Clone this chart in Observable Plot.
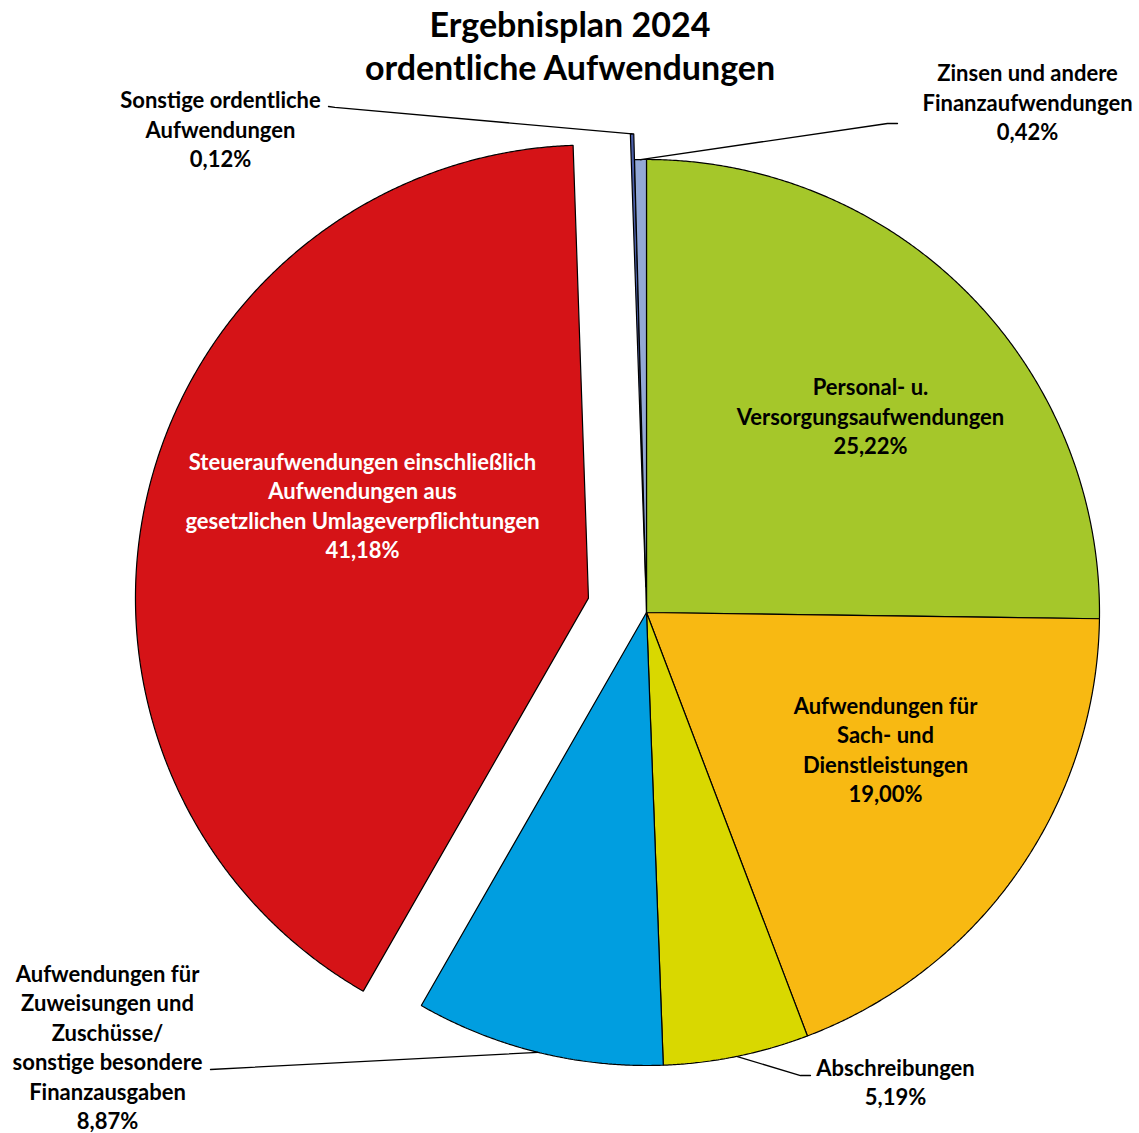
<!DOCTYPE html>
<html>
<head>
<meta charset="utf-8">
<script src="https://cdn.jsdelivr.net/npm/d3@7"></script>
<script src="https://cdn.jsdelivr.net/npm/@observablehq/plot@0.6"></script>
<style>
  html, body { margin: 0; padding: 0; background: #fff; }
  #chart svg { display: block; }
</style>
</head>
<body>
<div id="chart"></div>
<script>
// ---- data ----
const title = "Ergebnisplan 2024\nordentliche Aufwendungen";
const categories = [
  "Personal- u.\nVersorgungsaufwendungen",
  "Aufwendungen für\nSach- und\nDienstleistungen",
  "Abschreibungen",
  "Aufwendungen für\nZuweisungen und\nZuschüsse/\nsonstige besondere\nFinanzausgaben",
  "Steueraufwendungen einschließlich\nAufwendungen aus\ngesetzlichen Umlageverpflichtungen",
  "Sonstige ordentliche\nAufwendungen",
  "Zinsen und andere\nFinanzaufwendungen"
];
const shares = [25.22, 19.00, 5.19, 8.87, 41.18, 0.12, 0.42];

// ---- styles / layout ----
const colors = ["#a5c72a", "#f8b912", "#d9d800", "#009ee0", "#d51317", "#4a5ea8", "#93a9d6"];
const textColors = ["#000", "#000", "#000", "#000", "#fff", "#000", "#000"];
const explode = [0, 0, 0, 0, 0.132, 0.057, 0];
// label centres in radius units (pie centre = 0,0)
const labelPos = [
  [0.4945, 0.4350], [0.5276, -0.3000], [0.5497, -1.0341], [-1.1898, -0.9570],
  [-0.6269, 0.2385], [-0.9404, 1.0685], [0.8411, 1.1281]
];
// leader line label-side points (null = no leader)
const leaderStart = [
  null, null,
  [[0.3620, -1.0221], [0.3400, -1.0221]],
  [[-0.9625, -1.0088]],
  null,
  [[-0.7020, 1.1170], [-0.6880, 1.1150]],
  [[0.5541, 1.0795], [0.5320, 1.0795]]
];

const W = 1139, H = 1133, CX = 646, CY = 612, R = 453;
const FONT = "Lato, 'Open Sans', sans-serif";
const fmt = v => v.toFixed(2).replace(".", ",") + "%";

// ---- geometry from data ----
const total = d3.sum(shares);
let cum = 0;
const slices = shares.map((v, i) => {
  const a0 = cum / total * 2 * Math.PI;
  cum += v;
  const a1 = cum / total * 2 * Math.PI;
  const mid = (a0 + a1) / 2;
  const ox = explode[i] * Math.sin(mid), oy = explode[i] * Math.cos(mid);
  const n = Math.max(2, Math.ceil((a1 - a0) / (0.25 * Math.PI / 180)));
  const pts = [{x: ox, y: oy}];
  for (let k = 0; k <= n; k++) {
    const a = a0 + (a1 - a0) * k / n;
    pts.push({x: ox + Math.sin(a), y: oy + Math.cos(a)});
  }
  pts.push({x: ox, y: oy});
  return {i, a0, a1, mid, ox, oy, pts};
});

const labels = slices.map(s => ({
  x: labelPos[s.i][0], y: labelPos[s.i][1],
  text: categories[s.i] + "\n" + fmt(shares[s.i]),
  fill: textColors[s.i]
}));

const leaders = [];
slices.forEach(s => {
  if (!leaderStart[s.i]) return;
  const pts = leaderStart[s.i].map(([x, y]) => ({x, y}));
  pts.push({x: s.ox + Math.sin(s.mid), y: s.oy + Math.cos(s.mid)});
  leaders.push(pts);
});

const marks = [
  ...slices.map(s => Plot.line(s.pts, {x: "x", y: "y", fill: colors[s.i], stroke: "#000", strokeWidth: 1.2, strokeLinejoin: "miter"})),
  ...leaders.map(p => Plot.line(p, {x: "x", y: "y", stroke: "#000", strokeWidth: 1.3})),
  ...textColors.map((c, i) => Plot.text([labels[i]], {
    x: "x", y: "y", text: "text", fill: c, fontSize: 22, fontWeight: "bold",
    fontFamily: FONT, lineHeight: 1.34, textAnchor: "middle", lineAnchor: "middle"
  })),
  Plot.text([title], {frameAnchor: "top", dy: 44.5, text: d => d, fill: "#000", fontSize: 34,
    fontWeight: "bold", fontFamily: FONT, lineHeight: 1.265, lineAnchor: "middle"})
];

const chart = Plot.plot({
  width: W, height: H,
  marginTop: 0, marginRight: 0, marginBottom: 0, marginLeft: 0,
  x: {domain: [(0 - CX) / R, (W - CX) / R], axis: null},
  y: {domain: [(CY - H) / R, CY / R], axis: null},
  style: {fontFamily: FONT, background: "#fff"},
  marks
});
document.getElementById("chart").appendChild(chart);
</script>
</body>
</html>
